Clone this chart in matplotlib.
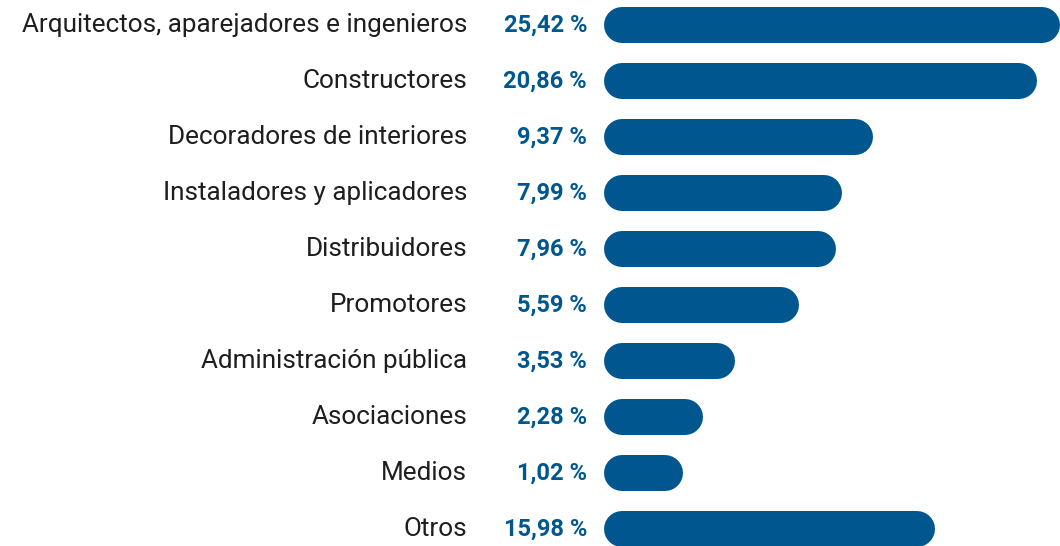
import matplotlib.pyplot as plt
import matplotlib.transforms as mtransforms

# chart data
categories = ["Arquitectos, aparejadores e ingenieros", "Constructores",
              "Decoradores de interiores", "Instaladores y aplicadores",
              "Distribuidores", "Promotores", "Administración pública",
              "Asociaciones", "Medios", "Otros"]
pct_labels = ["25,42 %", "20,86 %", "9,37 %", "7,99 %", "7,96 %",
              "5,59 %", "3,53 %", "2,28 %", "1,02 %", "15,98 %"]
# drawn bar lengths (the original does not scale them to the labels)
bar_len = [25.42, 24.14, 15.0, 13.27, 12.93, 10.87, 7.30, 5.52, 4.40, 18.45]

blue = "#00568f"
text_col = "#1e1e1e"

W, H = 1060, 546
fig = plt.figure(figsize=(W / 100, H / 100), dpi=100)
ax = fig.add_axes([604 / W, 0, 1 - 604 / W, 1])
ax.set_xlim(0, max(bar_len))
ax.set_ylim((H - 25) / 56, -25 / 56)
ax.axis("off")

# bars are thick lines with round caps -> stadium shape
px_x = (W - 604) / max(bar_len)
bar_px = 36
cap = (bar_px / 2) / px_x
for i, length in enumerate(bar_len):
    ax.plot([cap, length - cap], [i, i], color=blue, lw=bar_px * 72 / 100,
            solid_capstyle="round", clip_on=False)

trans = mtransforms.blended_transform_factory(fig.transFigure, ax.transData)
for i, (cat, lab) in enumerate(zip(categories, pct_labels)):
    ax.text(467 / W, i, cat, transform=trans, ha="right", va="center",
            fontsize=18.8, color=text_col, family=["Roboto", "DejaVu Sans"])
    ax.text(587 / W, i + 0.01, lab, transform=trans, ha="right", va="center",
            fontsize=17, color=blue, fontweight="bold",
            family=["Roboto", "DejaVu Sans"])

fig.savefig("out.png", dpi=100)
